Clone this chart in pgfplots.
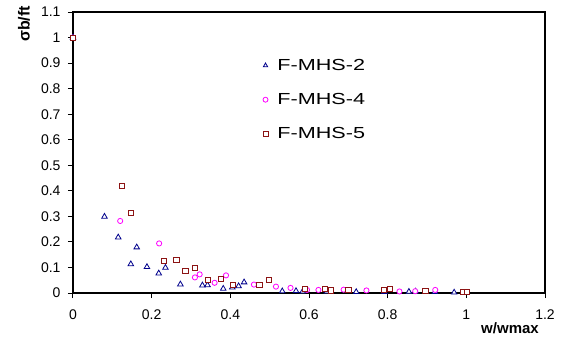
\documentclass[border=0pt]{standalone}
\usepackage{pgfplots}
\pgfplotsset{compat=1.18}
\usepackage{fontspec}
\setmainfont{Liberation Sans}
\newfontfamily\legfont[FakeStretch=1.35]{Liberation Sans}
\definecolor{tri}{RGB}{0,0,140}
\definecolor{cir}{RGB}{255,0,255}
\definecolor{sqr}{RGB}{140,20,20}
\begin{document}
\begin{tikzpicture}
\path[use as bounding box] (-73pt,-45pt) rectangle (489pt,293pt);
\begin{axis}[
  at={(0pt,0pt)}, anchor=south west,
  scale only axis, width=472pt, height=281pt,
  xmin=0, xmax=1.2, ymin=0, ymax=1.1,
  xtick={0,0.2,...,1.2}, ytick={0,0.1,...,1.1},
  tick align=outside, major tick length=5pt,
  xtick pos=bottom, ytick pos=left,
  axis line style={line width=2.6pt},
  tick style={line width=1pt, black},
  tick label style={font=\fontsize{14}{16}\selectfont},
  /pgf/number format/assume math mode=true,
  yticklabel style={/pgf/number format/.cd, fixed, precision=1, /tikz/.cd, xshift=-4pt},
  xticklabel style={/pgf/number format/.cd, fixed, precision=1, /tikz/.cd, yshift=-8pt},
  legend style={draw=none, fill=none, at={(0.386,0.847)}, anchor=north west,
    font=\legfont\fontsize{16}{18}\selectfont, row sep=17.5pt},
  legend image code/.code={\path[draw=none,fill=none] (0cm,0cm) -- (0.6cm,0cm); \draw[#1,mark size=2.5pt] plot coordinates {(0.25cm,0cm)};},
  legend cell align=left,
  clip=false,
]
\draw[line width=2.6pt, black] (rel axis cs:0,0) rectangle (rel axis cs:1,1);
\addplot[only marks, mark=triangle*, mark size=3.2pt, mark options={draw=tri, fill=white, line width=0.8pt}] coordinates {
(0,1.0)(0.080,0.299)(0.115,0.218)(0.162,0.179)(0.147,0.113)(0.188,0.102)(0.218,0.077)(0.235,0.099)
(0.273,0.034)(0.329,0.030)(0.342,0.031)(0.382,0.017)(0.405,0.022)(0.421,0.027)(0.435,0.042)
(0.532,0.007)(0.567,0.008)(0.584,0.006)(0.645,0.006)(0.720,0.004)(0.792,0.004)(0.854,0.005)(0.871,0.006)(0.920,0.004)(0.969,0.002)
};
\addlegendentry{F-MHS-2}
\addplot[only marks, mark=*, mark size=2.6pt, mark options={draw=cir, fill=white, line width=0.8pt}] coordinates {
(0,1.0)(0.120,0.282)(0.219,0.194)(0.310,0.061)(0.322,0.073)(0.360,0.040)(0.389,0.069)(0.460,0.033)
(0.516,0.025)(0.553,0.020)(0.595,0.012)(0.624,0.012)(0.688,0.013)(0.746,0.010)(0.830,0.006)(0.870,0.007)(0.921,0.012)
};
\addlegendentry{F-MHS-4}
\addplot[only marks, mark=square*, mark size=2.6pt, mark options={draw=sqr, fill=white, line width=0.8pt}] coordinates {
(0,1.0)(0.125,0.419)(0.148,0.314)(0.231,0.127)(0.263,0.129)(0.286,0.085)(0.310,0.097)(0.342,0.050)
(0.377,0.054)(0.407,0.031)(0.474,0.033)(0.498,0.050)(0.590,0.017)(0.641,0.017)(0.656,0.010)(0.700,0.013)
(0.790,0.012)(0.805,0.015)(0.896,0.009)(0.992,0.003)(1.002,0.003)
};
\addlegendentry{F-MHS-5}
\end{axis}
\node[font=\bfseries\fontsize{16}{18}\selectfont, rotate=90] at (-49pt,269pt) {σb/ft};
\node[font=\bfseries\fontsize{15}{17}\selectfont] at (437pt,-35pt) {w/wmax};
\end{tikzpicture}
\end{document}
